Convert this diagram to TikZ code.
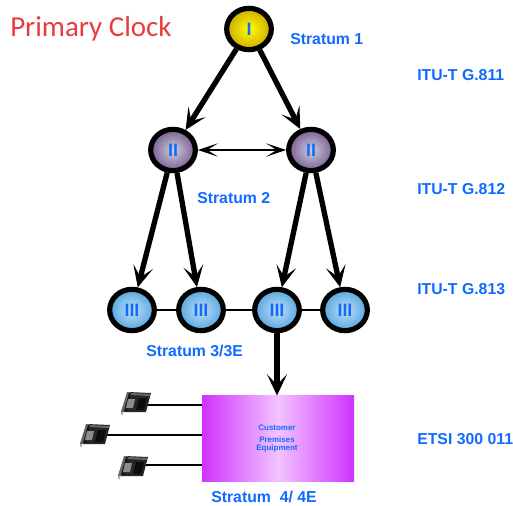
\documentclass[tikz,border=0pt]{standalone}
\usepackage{fontspec}
\setmainfont{Liberation Sans}
\newfontfamily\clockfont{Carlito}
\usetikzlibrary{arrows.meta,shapes.geometric}
\definecolor{labelblue}{RGB}{16,106,255}
\definecolor{clockred}{RGB}{232,60,60}
\definecolor{yellowedge}{RGB}{205,170,0}
\definecolor{purplecore}{RGB}{205,205,220}
\definecolor{purpleedge}{RGB}{122,95,145}
\definecolor{bluecore}{RGB}{195,225,245}
\definecolor{blueedge}{RGB}{85,165,225}
\definecolor{boxedge}{RGB}{208,50,255}
\definecolor{boxcore}{RGB}{242,195,255}
\tikzset{
	strat/.style={ellipse,draw=black,line width=3.9pt,inner sep=0pt,minimum width=33.5bp,minimum height=31bp,
		text=labelblue,font=\bfseries\fontsize{13.5}{14}\selectfont},
	stratone/.style={strat,inner color=yellow,outer color=yellowedge},
	strattwo/.style={strat,inner color=purplecore,outer color=purpleedge},
	stratthree/.style={strat,inner color=bluecore,outer color=blueedge},
	lbl/.style={text=labelblue,font=\bfseries\fontsize{11.9}{14}\selectfont,inner sep=0pt},
	link/.style={line width=2.2pt},
	down/.style={line width=4pt,-{Stealth[length=16bp,width=15bp,inset=8bp]}},
	phone/.pic={
		\fill[black!85] (-15,10)--(-8,-10)--(15,-9)--(10,10)--cycle;
		\fill[black!60] (-15,10)--(-9,-10)--(-5,-10)--(-11,10)--cycle;
		\fill[black!92] (-12,9)--(-7,-9)--(-5,-9)--(-9,9)--cycle;
		\fill[black!45] (-8,-3)--(-1,-3)--(-3,6)--(-10,6)--cycle;
		\fill[black!95] (3,-4)--(11,-4)--(8,8)--(0,8)--cycle;
		\fill[black!60] (-5,-9)--(14,-8)--(13.5,-6)--(-5.5,-7)--cycle;
		\fill[black!30] (-15.5,10) rectangle (-13.5,13);
	}
}
\begin{document}
\begin{tikzpicture}[x=0.75bp,y=-0.75bp,>=stealth]
	\useasboundingbox (0,0) rectangle (513,506);
	\node[anchor=west,inner sep=0pt,text=clockred,font=\clockfont\fontsize{21.8}{24}\selectfont] (clock) at (10,29) {Primary Clock};
	\node[stratone] (one) at (249,29) {I};
	\node[strattwo] (twoa) at (173,150) {II};
	\node[strattwo] (twob) at (311,150) {II};
	\foreach \name/\x in {threea/132,threeb/201,threec/277,threed/345}{
		\node[stratthree] (\name) at (\x,310) {III};}
	\node[minimum width=114bp,minimum height=64bp,inner sep=0pt,left color=boxedge,right color=boxedge,middle color=boxcore] (cpe) at (278,438.5) {};
	\node[text=labelblue,font=\bfseries\fontsize{6}{6}\selectfont,align=center,inner sep=0pt] (cpetext) at (277,438.5) {Customer\\[2.6pt]Premises\\Equipment};
	\draw[down] (one) -- (twoa);
	\draw[down] (one) -- (twob);
	\draw[line width=1.8pt,{Stealth[length=15bp,width=10bp,inset=8bp]}-{Stealth[length=15bp,width=10bp,inset=8bp]}] (twoa) -- (twob);
	\draw[down] (twoa) -- (threea);
	\draw[down] (twoa) -- (threeb);
	\draw[down] (twob) -- (threec);
	\draw[down] (twob) -- (threed);
	\draw[link] (threea) -- (threeb);
	\draw[link] (threeb) -- (threec);
	\draw[link] (threec) -- (threed);
	\draw[down] (threec) -- (threec|-cpe.north);
	\foreach \name/\x/\y/\yy in {pha/136/402/405,phb/95/434/435,phc/133/466/465}{
		\coordinate (\name) at (\x+10,\yy);
		\draw[link] (\name) -- (\name-|cpe.west);
		\pic at (\x,\y) {phone};}
	\node[lbl,anchor=west] (s1) at (290,39) {Stratum 1};
	\node[lbl,anchor=west] (s2) at (197,198) {Stratum 2};
	\node[lbl,anchor=west] (s3) at (146,351) {Stratum 3/3E};
	\node[lbl,anchor=west] (s4) at (211,497) {Stratum\ \ 4/ 4E};
	\node[lbl,anchor=west] (g1) at (417,75) {ITU-T G.811};
	\node[lbl,anchor=west] (g2) at (417,189) {ITU-T G.812};
	\node[lbl,anchor=west] (g3) at (417,289) {ITU-T G.813};
	\node[lbl,anchor=west] (g4) at (417,439) {ETSI 300 011};
\end{tikzpicture}
\end{document}
